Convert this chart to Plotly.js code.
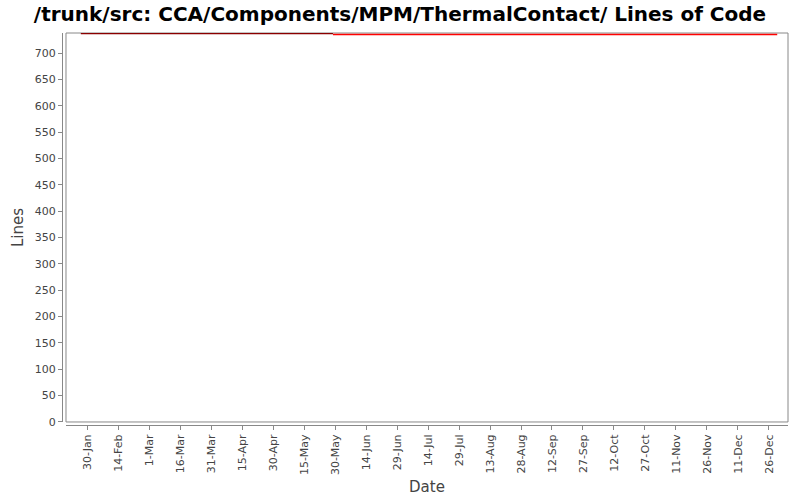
<!DOCTYPE html>
<html>
<head>
<meta charset="utf-8">
<script src="https://cdn.plot.ly/plotly-3.0.1.min.js"></script>
<style>html,body{margin:0;padding:0;background:#fff}#chart{width:800px;height:500px}</style>
</head>
<body>
<div id="chart"></div>
<script>
// Series data
var oldDates = ['2007-01-27', '2007-05-29'];
var oldLines = [737, 737];
var newDates = ['2007-05-29', '2007-12-30'];
var newLines = [735, 735];

// Tick labels
var tickDates = ['2007-01-30','2007-02-14','2007-03-01','2007-03-16','2007-03-31','2007-04-15','2007-04-30','2007-05-15','2007-05-30','2007-06-14','2007-06-29','2007-07-14','2007-07-29','2007-08-13','2007-08-28','2007-09-12','2007-09-27','2007-10-12','2007-10-27','2007-11-11','2007-11-26','2007-12-11','2007-12-26'];
var tickLabels = ['30-Jan','14-Feb','1-Mar','16-Mar','31-Mar','15-Apr','30-Apr','15-May','30-May','14-Jun','29-Jun','14-Jul','29-Jul','13-Aug','28-Aug','12-Sep','27-Sep','12-Oct','27-Oct','11-Nov','26-Nov','11-Dec','26-Dec'];
var yTicks = [0,50,100,150,200,250,300,350,400,450,500,550,600,650,700];

var traces = [
  {x: oldDates, y: oldLines, type: 'scatter', mode: 'lines', line: {color: '#8b0000', width: 1.2}, hoverinfo: 'none'},
  {x: newDates, y: newLines, type: 'scatter', mode: 'lines', line: {color: '#ff0000', width: 1.5}, hoverinfo: 'none'}
];

var layout = {
  width: 800, height: 500,
  margin: {l: 62, r: 12, t: 33, b: 75, pad: 0},
  paper_bgcolor: '#ffffff', plot_bgcolor: '#ffffff',
  showlegend: false,
  font: {family: 'DejaVu Sans, sans-serif', size: 11, color: '#444444'},
  title: {text: '/trunk/src: CCA/Components/MPM/ThermalContact/ Lines of Code', font: {family: 'DejaVu Sans, sans-serif', size: 20, color: '#000000', weight: 'bold'}, x: 0.5, xanchor: 'center', y: 0.972, yanchor: 'middle'},
  xaxis: {
    type: 'date', range: ['2007-01-19 19:30', '2008-01-04 05:00'],
    domain: [0.0055, 1], anchor: 'free', position: 0,
    tickvals: tickDates, ticktext: tickLabels, tickangle: -90,
    ticks: 'outside', ticklen: 4, tickcolor: '#888888', tickwidth: 1,
    showline: true, linecolor: '#888888', linewidth: 1,
    showgrid: false, zeroline: false,
    tickfont: {family: 'DejaVu Sans, sans-serif', size: 11, color: '#444444'},
    title: {text: 'Date', font: {family: 'DejaVu Sans, sans-serif', size: 15, color: '#444444'}, standoff: 7}
  },
  yaxis: {
    range: [0, 738],
    domain: [0.0077, 1], anchor: 'free', position: 0,
    tickvals: yTicks,
    ticks: 'outside', ticklen: 4, tickcolor: '#888888', tickwidth: 1,
    showline: true, linecolor: '#888888', linewidth: 1,
    showgrid: false, zeroline: false,
    tickfont: {family: 'DejaVu Sans, sans-serif', size: 11, color: '#444444'},
    title: {text: 'Lines', font: {family: 'DejaVu Sans, sans-serif', size: 15, color: '#444444'}, standoff: 6}
  },
  shapes: [
    {type: 'rect', xref: 'x domain', yref: 'y domain', x0: 0, x1: 1, y0: 0, y1: 1, line: {color: '#888888', width: 1}, fillcolor: 'rgba(0,0,0,0)', layer: 'below'}
  ]
};

Plotly.newPlot('chart', traces, layout, {staticPlot: true, displayModeBar: false});
</script>
</body>
</html>
